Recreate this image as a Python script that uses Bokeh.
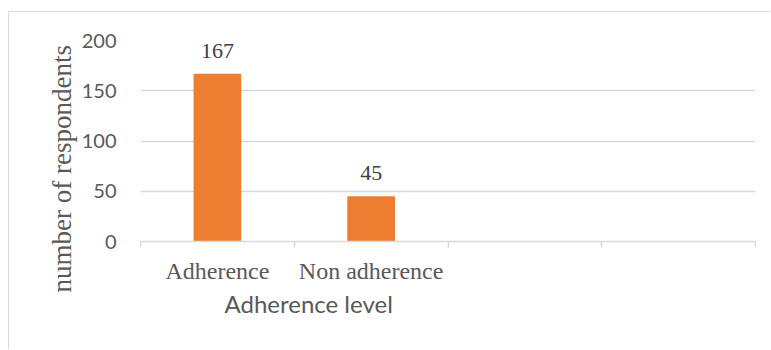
from bokeh.plotting import figure
from bokeh.models import Range1d, FixedTicker, Title, ColumnDataSource
from bokeh.core.properties import value
from bokeh.embed import file_html
from bokeh.resources import INLINE

# ---- data ----
categories = ["Adherence", "Non adherence", "", ""]
respondents = [167, 45]
y_ticks = [0, 50, 100, 150, 200]
x_title = "Adherence level"
y_title = "number of respondents"

bar_color = "#ED7D31"
grid_color = "#D9D9D9"

positions = [i + 0.5 for i in range(len(respondents))]
src = ColumnDataSource(dict(x=positions, top=respondents,
                            label=[str(v) for v in respondents]))

p = figure(width=762, height=338, output_backend="svg", toolbar_location=None,
           x_range=Range1d(0, len(categories)), y_range=Range1d(0, 200),
           min_border_left=131, min_border_right=16, min_border_top=28,
           min_border_bottom=109,
           styles={"margin-left": "8px", "margin-top": "11px",
                   "border-left": "1px solid #D9D9D9",
                   "border-top": "1px solid #D9D9D9"})
p.outline_line_color = None
p.background_fill_color = "white"
p.border_fill_color = "white"

p.vbar(x="x", top="top", width=0.31, source=src, color=bar_color, line_color=None)
p.text(x="x", y="top", text="label", source=src, text_align="center",
       text_baseline="alphabetic", y_offset=-23,
       text_font=value("Liberation Serif"), text_font_size="22px",
       text_color="#404040")

# y axis
ya = p.yaxis[0]
ya.ticker = FixedTicker(ticks=y_ticks)
ya.axis_line_color = None
ya.major_tick_line_color = None
ya.minor_tick_line_color = None
ya.major_tick_out = 0
ya.major_tick_in = 0
ya.major_label_standoff = 24
ya.major_label_text_font = "Lato"
ya.major_label_text_font_size = "20px"
ya.major_label_text_color = "#595959"

p.ygrid.ticker = FixedTicker(ticks=y_ticks)
p.ygrid.grid_line_color = grid_color
p.ygrid.grid_line_width = 1.3
p.xgrid.grid_line_color = None

# x axis
xa = p.xaxis[0]
xa.ticker = FixedTicker(ticks=[i + 0.5 for i in range(len(categories))],
                        minor_ticks=list(range(len(categories) + 1)))
xa.major_label_overrides = {i + 0.5: c for i, c in enumerate(categories)}
xa.axis_line_color = grid_color
xa.axis_line_width = 1.5
xa.major_tick_line_color = None
xa.major_tick_out = 0
xa.major_tick_in = 0
xa.minor_tick_line_color = grid_color
xa.minor_tick_line_width = 1.5
xa.minor_tick_out = 6
xa.minor_tick_in = 0
xa.major_label_standoff = 10
xa.major_label_text_font = "Liberation Serif"
xa.major_label_text_font_size = "24px"
xa.major_label_text_color = "#595959"

# axis titles
xt = Title(text=x_title, align="left", offset=84, standoff=0,
           text_font="Lato", text_font_size="24px", text_font_style="normal",
           text_color="#595959")
p.add_layout(xt, "below")
yt = Title(text=y_title, align="left", offset=-51, standoff=4,
           text_font="Liberation Serif", text_font_size="27px",
           text_font_style="normal", text_color="#595959")
p.add_layout(yt, "left")

open("out.html", "w").write(file_html(p, INLINE))
